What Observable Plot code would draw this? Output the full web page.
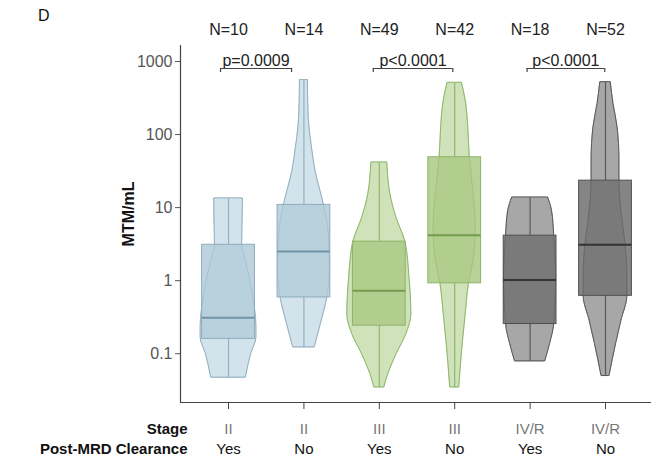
<!DOCTYPE html>
<html><head><meta charset="utf-8">
<script src="https://cdn.jsdelivr.net/npm/d3@7"></script>
<script src="https://cdn.jsdelivr.net/npm/@observablehq/plot@0.6"></script>
<style>
body{margin:0;background:#fff;font-family:"Liberation Sans",Arial,sans-serif;}
#chart{position:relative;width:651px;height:465px;}
#panel{position:absolute;left:38px;top:7px;font-size:16px;color:#111;}
</style></head><body><div id="chart"><div id="panel">D</div></div>
<script>
// ---- data ----
const stages = ["II","II","III","III","IV/R","IV/R"];
const clearance = ["Yes","No","Yes","No","Yes","No"];
const nCounts = [10,14,49,42,18,52];
const q1 = [0.16,0.59,0.242,0.92,0.255,0.62];
const medians = [0.31,2.5,0.73,4.18,1.02,3.1];
const q3 = [3.1,10.9,3.42,48.9,4.13,23.4];
// violin profiles: [value, half-width in category units]
const violinIIYes = [[13.2,0.19],[10.1,0.19],[3.1,0.18],[1.88,0.23],[0.66,0.32],[0.23,0.37],[0.167,0.37],[0.099,0.30],[0.047,0.23]];
const violinIINo = [[550,0.053],[213,0.06],[126,0.073],[67,0.106],[32,0.153],[10.9,0.265],[4.4,0.33],[1.52,0.345],[0.59,0.31],[0.255,0.225],[0.122,0.143]];
const violinIIIYes = [[41,0.106],[15.4,0.146],[7.4,0.225],[3.4,0.345],[1.11,0.40],[0.35,0.425],[0.186,0.36],[0.099,0.23],[0.053,0.12],[0.0345,0.066]];
const violinIIINo = [[505,0.097],[263,0.153],[126,0.18],[49,0.2],[15.4,0.25],[5.4,0.28],[1.88,0.25],[0.92,0.19],[0.35,0.146],[0.136,0.106],[0.0345,0.06]];
const violinIVYes = [[13.6,0.24],[9.1,0.29],[4.13,0.32],[1.11,0.345],[0.255,0.32],[0.136,0.265],[0.0785,0.2]];
const violinIVNo = [[515,0.07],[263,0.106],[126,0.16],[44,0.185],[23.4,0.185],[9.1,0.21],[3.2,0.265],[1.24,0.29],[0.62,0.29],[0.28,0.21],[0.136,0.14],[0.0495,0.053]];
const violins = [violinIIYes, violinIINo, violinIIIYes, violinIIINo, violinIVYes, violinIVNo];
const pairs = [
  {from:-0.106, to:0.836, label:"p=0.0009"},
  {from:1.92, to:2.975, label:"p<0.0001"},
  {from:3.96, to:4.99, label:"p<0.0001"}
];
const yTicks = [0.1,1,10,100,1000];
const yTickLabels = ["0.1","1","10","100","1000"];
const yDomain = [0.0215, 1656];
const xDomain = [-0.637, 5.61];

// ---- styles ----
const palette = {
  "II":   {vf:"#d2e3ec", vs:"#93b1c2", bf:"#b4cedb", bs:"#8eacbd", md:"#7394a6"},
  "III":  {vf:"#cfe2b9", vs:"#8fb86b", bf:"#aecb89", bs:"#8db469", md:"#739b4c"},
  "IV/R": {vf:"#a7a7a7", vs:"#595959", bf:"#747474", bs:"#505050", md:"#333333"}
};
const boxHalf = 0.35;
const font = '"Liberation Sans", Arial, sans-serif';

const marks = [];
violins.forEach((prof, i) => {
  const c = palette[stages[i]];
  const rows = prof.map(([v, w]) => ({v, x1: i - w, x2: i + w}));
  const vmax = prof[0][0], vmin = prof[prof.length-1][0];
  marks.push(Plot.areaX(rows, {y:"v", x1:"x1", x2:"x2", curve:"monotone-y", fill:c.vf, stroke:c.vs, strokeWidth:1}));
  marks.push(Plot.ruleX([i], {y1: () => q3[i], y2: () => vmax, stroke:c.vs, strokeWidth:1.2}));
  marks.push(Plot.ruleX([i], {y1: () => vmin, y2: () => q1[i], stroke:c.vs, strokeWidth:1.2}));
  marks.push(Plot.rect([i], {x1: d => d - boxHalf, x2: d => d + boxHalf, y1: () => q1[i], y2: () => q3[i], fill:c.bf, fillOpacity:0.88, stroke:c.bs, strokeWidth:1}));
  marks.push(Plot.areaX(rows, {y:"v", x1:"x1", x2:"x2", curve:"monotone-y", fill:"none", stroke:c.vs, strokeOpacity:0.35, strokeWidth:1}));
  marks.push(Plot.ruleY([medians[i]], {x1: () => i - boxHalf, x2: () => i + boxHalf, stroke:c.md, strokeWidth:2}));
});

const plot = Plot.plot({
  width:651, height:465,
  marginLeft:180, marginRight:0, marginTop:45, marginBottom:63,
  style:{fontFamily:font, fontSize:"16px", background:"transparent", overflow:"visible"},
  x:{type:"linear", domain:xDomain, axis:null},
  y:{type:"log", domain:yDomain, axis:null},
  marks:[
    ...marks,
    Plot.axisY(yTicks, {anchor:"left", tickSize:5, tickFormat: () => "", color:"#555", label:null}),
    Plot.text(yTicks, {y: d => d, text: (d, i) => yTickLabels[i], frameAnchor:"left", dx:-8, textAnchor:"end", fontSize:16, fill:"#555"}),
    Plot.axisX(d3.range(stages.length), {anchor:"bottom", tickSize:7, tickFormat: () => "", color:"#444", label:null}),
    Plot.ruleX([xDomain[0]], {stroke:"#444", strokeWidth:1.2}),
    Plot.ruleY([yDomain[0]], {stroke:"#444", strokeWidth:1.2}),
    Plot.text(["MTM/mL"], {text: d => d, frameAnchor:"left", textAnchor:"middle", dx:-52, dy:-10, rotate:-90, fontWeight:"bold", fontSize:16, fill:"#111"}),
    Plot.text(d3.range(stages.length), {x: d => d, text: i => stages[i], frameAnchor:"bottom", dy:31, fill:"#777", fontSize:15}),
    Plot.text(d3.range(stages.length), {x: d => d, text: i => clearance[i], frameAnchor:"bottom", dy:51, fill:"#111", fontSize:15}),
    Plot.text(["Stage"], {text: d => d, frameAnchor:"bottom-left", dx:7, dy:31, textAnchor:"end", fontWeight:"bold", fontSize:15, fill:"#111"}),
    Plot.text(["Post-MRD Clearance"], {text: d => d, frameAnchor:"bottom-left", dx:7, dy:51, textAnchor:"end", fontWeight:"bold", fontSize:15, fill:"#111"}),
    Plot.text(d3.range(stages.length), {x: d => d, text: i => "N=" + nCounts[i], frameAnchor:"top", dy:-22, fontSize:16, fill:"#222"}),
    Plot.text(pairs, {x: d => (d.from + d.to) / 2, text:"label", frameAnchor:"top", dy:9, fontSize:16, fill:"#222"}),
    Plot.ruleY(pairs, {x1:"from", x2:"to", y: () => yDomain[1], dy:23, stroke:"#444", strokeWidth:1.2}),
    Plot.ruleX(pairs.flatMap(p => [p.from, p.to]), {x: d => d, y1: () => yDomain[1], y2: () => yDomain[1], dy:23, insetBottom:-4, stroke:"#444", strokeWidth:1.2})
  ]
});
document.getElementById("chart").appendChild(plot);
plot.style.position = "absolute";
plot.style.left = "0px";
plot.style.top = "0px";
</script>
</body></html>
